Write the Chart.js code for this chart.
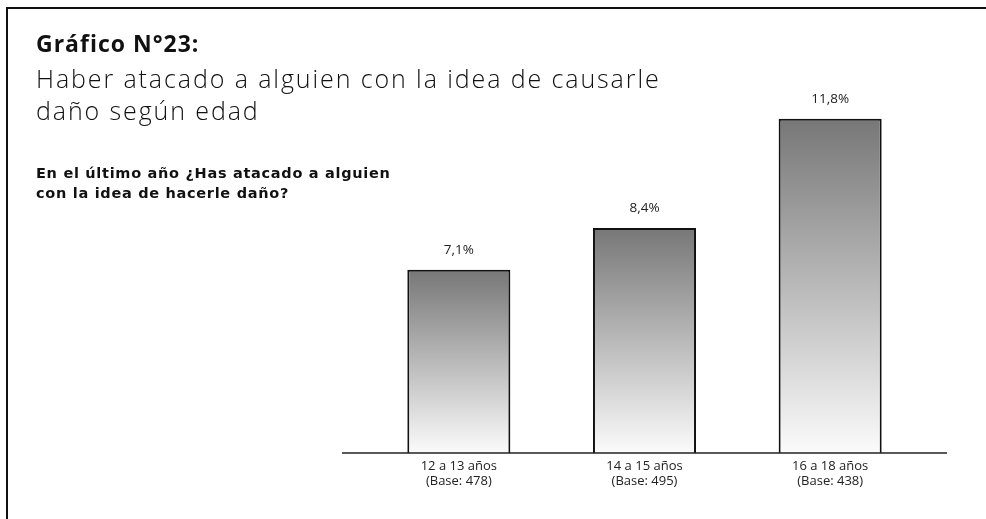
<!DOCTYPE html>
<html>
<head>
<meta charset="utf-8">
<script src="https://cdn.jsdelivr.net/npm/chart.js@4"></script>
<style>
  html, body { margin:0; padding:0; background:#fff; }
  body { width:986px; height:519px; position:relative; overflow:hidden; font-family:"Open Sans", sans-serif; color:#111; }
  #frame { position:absolute; left:6px; top:7px; width:990px; height:520px; border-left:2px solid #111; border-top:2px solid #111; }
  #wrap { position:absolute; left:0; top:0; width:986px; height:519px; }
  .t1 { position:absolute; left:36px; top:27px; font-size:23px; font-weight:bold; letter-spacing:1px; }
  .t2 { position:absolute; left:36px; top:62px; font-size:25px; line-height:32px; font-weight:300; letter-spacing:1.9px; }
  .t3 { position:absolute; left:36px; top:163px; font-family:"DejaVu Sans", sans-serif; font-size:14.5px; line-height:20px; font-weight:bold; letter-spacing:0.7px; }
</style>
</head>
<body>
<div id="frame"></div>
<div id="wrap"><canvas id="c" width="986" height="519"></canvas></div>
<div class="t1">Gráfico N°23:</div>
<div class="t2">Haber atacado a alguien con la idea de causarle<br>daño según edad</div>
<div class="t3">En el último año ¿Has atacado a alguien<br>con la idea de hacerle daño?</div>
<script>
// data
const categories = [['12 a 13 años', '(Base: 478)'], ['14 a 15 años', '(Base: 495)'], ['16 a 18 años', '(Base: 438)']]
const values = [7.1, 8.4, 11.8]
const valueLabels = ['7,1%', '8,4%', '11,8%']

// per-bar grey gradient, dark on top and almost white at the base
function barFill(ctx){
  const chart = ctx.chart
  const area = chart.chartArea
  if(!area || ctx.parsed == null) return '#999'
  const top = chart.scales.y.getPixelForValue(ctx.parsed.y)
  const g = chart.ctx.createLinearGradient(0, top, 0, area.bottom)
  g.addColorStop(0, '#777777')
  g.addColorStop(1, '#fbfbfb')
  return g
}

// baseline that runs a bit wider than the category band
const baseLine = {
  id: 'baseLine',
  afterDatasetsDraw(chart){
    const {ctx, chartArea} = chart
    ctx.save()
    ctx.strokeStyle = '#222'
    ctx.lineWidth = 1.5
    ctx.beginPath()
    ctx.moveTo(chartArea.left - 24, chartArea.bottom)
    ctx.lineTo(chartArea.right + 24, chartArea.bottom)
    ctx.stroke()
    ctx.restore()
  }
}

const valueText = {
  id: 'valueText',
  afterDatasetsDraw(chart){
    const {ctx} = chart
    const meta = chart.getDatasetMeta(0)
    ctx.save()
    ctx.font = '13.5px "Open Sans", sans-serif'
    ctx.fillStyle = '#222'
    ctx.textAlign = 'center'
    ctx.textBaseline = 'middle'
    meta.data.forEach((bar, i)=>{
      ctx.fillText(valueLabels[i], bar.x, bar.y - 20)
    })
    ctx.restore()
  }
}

new Chart(document.getElementById('c'), {
  type: 'bar',
  data: {
    labels: categories,
    datasets: [{
      data: values,
      backgroundColor: barFill,
      borderColor: '#111',
      borderWidth: 2,
      borderSkipped: false,
      categoryPercentage: 1,
      barPercentage: 0.555
    }]
  },
  options: {
    responsive: false,
    animation: false,
    layout: { padding: { left: 366, right: 63, top: 48, bottom: 0 } },
    plugins: { legend: { display: false }, tooltip: { enabled: false } },
    scales: {
      x: {
        grid: { display: false, drawTicks: false },
        border: { display: false },
        ticks: { color: '#222', font: { family: '"Open Sans", sans-serif', size: 13, lineHeight: 1.15 }, padding: 6, maxRotation: 0 },
        afterFit(scale){ scale.height = 66 }
      },
      y: {
        display: false,
        min: 1.4,
        max: 14
      }
    }
  },
  plugins: [baseLine, valueText]
})
</script>
</body>
</html>
